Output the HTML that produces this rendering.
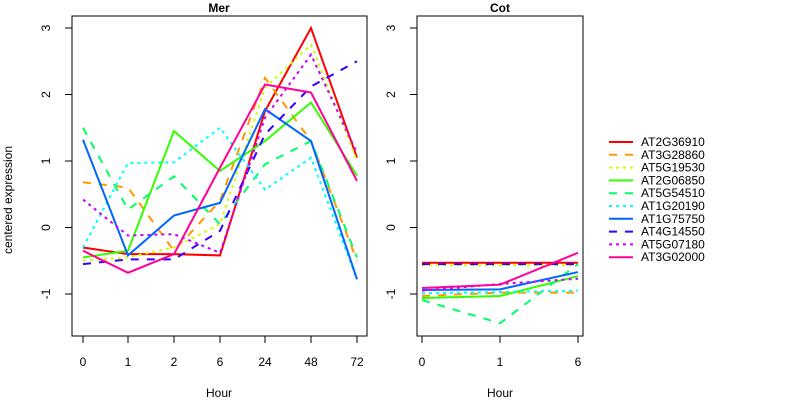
<!DOCTYPE html>
<html><head><meta charset="utf-8"><style>body{margin:0;background:#fff}svg{display:block}text{font-family:"Liberation Sans",sans-serif;font-size:12px;fill:#000}</style></head>
<body>
<svg id="s" width="800" height="400" xmlns="http://www.w3.org/2000/svg">
<rect width="800" height="400" fill="#fff"/>
<rect x="72" y="16" width="295" height="320" fill="none" stroke="#000" stroke-width="1"/>
<rect x="417" y="16" width="166" height="320" fill="none" stroke="#000" stroke-width="1"/>
<text x="219" y="12" text-anchor="middle" font-weight="bold">Mer</text>
<text x="500" y="12" text-anchor="middle" font-weight="bold">Cot</text>
<text x="219" y="397" text-anchor="middle">Hour</text>
<text x="500" y="397" text-anchor="middle">Hour</text>
<text transform="translate(12,200) rotate(-90)" text-anchor="middle">centered expression</text>
<g id="g"></g>
</svg>
<script>
const ns="http://www.w3.org/2000/svg",g=document.getElementById('g');
function el(t,a,txt){const e=document.createElementNS(ns,t);for(const k in a)e.setAttribute(k,a[k]);if(txt!==undefined)e.textContent=txt;g.appendChild(e);return e;}
const Y=v=>227.5-66.5*v;
[[72,50],[417,395]].forEach(([bx,lx])=>{
 el('line',{x1:bx,x2:bx,y1:Y(3),y2:Y(-1),stroke:'#000'});
 [3,2,1,0,-1].forEach(v=>{el('line',{x1:bx-7,x2:bx,y1:Y(v),y2:Y(v),stroke:'#000'});
 el('text',{transform:`translate(${lx},${Y(v)}) rotate(-90)`,'text-anchor':'middle'},v);});
});
const XL=[83,128,174,220,265,311,357],LL=['0','1','2','6','24','48','72'];
const XR=[422,500,578],LR=['0','1','6'];
[[XL,LL],[XR,LR]].forEach(([xs,ls])=>{
 el('line',{x1:xs[0],x2:xs[xs.length-1],y1:336,y2:336,stroke:'#000'});
 xs.forEach((x,i)=>{el('line',{x1:x,x2:x,y1:336,y2:343,stroke:'#000'});el('text',{x:x,y:366,'text-anchor':'middle'},ls[i]);});
});
const S=[
['AT2G36910','#ff0000',1,[-0.3,-0.4,-0.4,-0.42,1.75,3.0,1.05],[-0.53,-0.53,-0.53]],
['AT3G28860','#ff9900',2,[0.68,0.6,-0.35,0.4,2.25,1.3,-0.5],[-1.03,-0.98,-0.98]],
['AT5G19530','#ccff00',3,[-0.5,-0.45,-0.3,0.05,2.1,2.75,1.0],[-0.57,-0.57,-0.57]],
['AT2G06850','#33ff00',1,[-0.45,-0.35,1.45,0.85,1.3,1.88,0.78],[-1.06,-1.03,-0.73]],
['AT5G54510','#00ff66',2,[1.5,0.27,0.77,0.05,0.95,1.3,-0.45],[-1.09,-1.44,-0.55]],
['AT1G20190','#00ffff',3,[-0.3,0.97,0.98,1.5,0.57,1.05,-0.78],[-0.99,-0.97,-0.95]],
['AT1G75750','#0066ff',1,[1.32,-0.42,0.18,0.37,1.78,1.3,-0.78],[-0.94,-0.93,-0.67]],
['AT4G14550','#3300ff',2,[-0.55,-0.48,-0.48,-0.05,1.4,2.12,2.5],[-0.55,-0.55,-0.55]],
['AT5G07180','#cc00ff',3,[0.42,-0.12,-0.1,-0.38,1.65,2.6,1.12],[-0.95,-0.85,-0.77]],
['AT3G02000','#ff0099',1,[-0.35,-0.68,-0.4,0.9,2.15,2.03,0.7],[-0.91,-0.86,-0.38]]];
const DA={1:'none',2:'8,8',3:'3,4'};
S.forEach(([n,c,l,a,b],i)=>{
 const st={fill:'none',stroke:c,'stroke-width':2,'stroke-dasharray':DA[l]};
 el('polyline',Object.assign({points:a.map((v,j)=>XL[j]+','+Y(v)).join(' ')},st));
 el('polyline',Object.assign({points:b.map((v,j)=>XR[j]+','+Y(v)).join(' ')},st));
 const y=142+i*12.8;
 el('line',Object.assign({x1:609,x2:633,y1:y,y2:y},st));
 el('text',{x:641,y:y+4},n);
});
</script>
</body></html>
